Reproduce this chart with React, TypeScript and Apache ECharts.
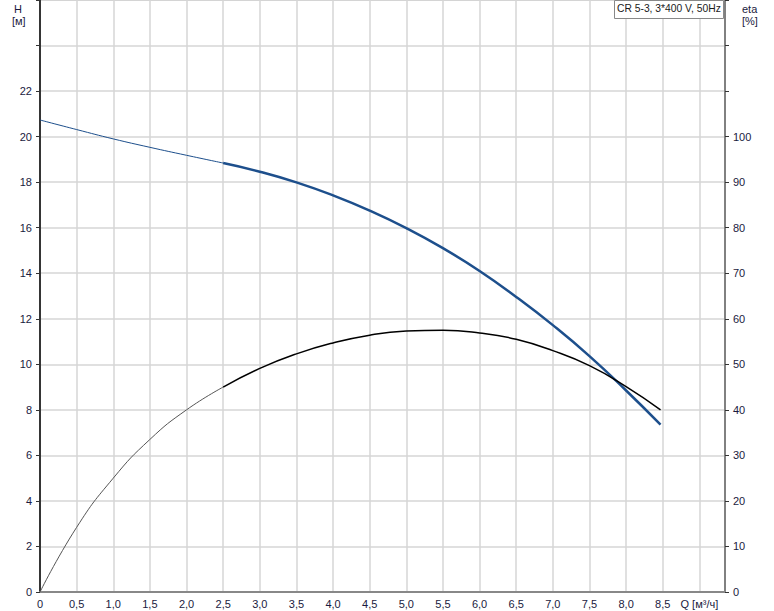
import React, { useEffect, useRef } from "react";
import * as echarts from "echarts";

// Flow Q [m³/h]
const flowQ = [0, 0.5, 1.0, 1.5, 2.0, 2.5, 3.0, 3.5, 4.0, 4.5, 5.0, 5.5, 6.0, 6.5, 7.0, 7.5, 8.0, 8.47];
// Head H [m]
const headH = [20.73, 20.31, 19.9, 19.53, 19.18, 18.84, 18.46, 17.99, 17.42, 16.75, 15.98, 15.1, 14.1, 12.96, 11.72, 10.36, 8.85, 7.35];
// Efficiency eta [%]
const etaV = [0, 14.2, 25.0, 33.5, 40.0, 45.0, 49.1, 52.3, 54.7, 56.4, 57.3, 57.5, 56.9, 55.5, 53.0, 49.7, 45.1, 40.0];

const splitQ = 2.5;
const titleText = "CR 5-3, 3*400 V, 50Hz";
const hLabel = ["H", "[м]"];
const etaLabel = ["eta", "[%]"];
const qLabel = "Q [м³/ч]";

function pairs(xs: number[], ys: number[], from: number, to: number) {
  const out: number[][] = [];
  xs.forEach((x, i) => {
    if (x >= from && x <= to) out.push([x, ys[i]]);
  });
  return out;
}

export default function App() {
  const ref = useRef<HTMLDivElement>(null);
  useEffect(() => {
    if (!ref.current) return;
    const chart = echarts.init(ref.current, undefined, { renderer: "svg" });
    const font = "Arial, 'Liberation Sans', sans-serif";
    const fmtQ = (v: number) => {
      if (Math.abs(v - 9) < 1e-6) return qLabel;
      if (v > 9) return "";
      if (v === 0) return "0";
      return v.toFixed(1).replace(".", ",");
    };
    const lineBase = { type: "line", showSymbol: false, smooth: true };
    chart.setOption({
      animation: false,
      grid: {
        left: 40,
        top: 0,
        width: 685,
        height: 592,
        show: true,
        borderColor: "#a0a0a0",
        borderWidth: 1,
        backgroundColor: "transparent",
      },
      xAxis: {
        type: "value",
        min: 0,
        max: 9.35,
        interval: 0.5,
        axisLine: { show: true, lineStyle: { color: "#888", width: 2 } },
        axisTick: { show: false },
        axisLabel: {
          margin: 6,
          fontSize: 11,
          color: "#1a1a40",
          fontFamily: font,
          formatter: fmtQ,
          showMaxLabel: false,
        },
        splitLine: { show: true, lineStyle: { color: "#d6d6d6", width: 1.5 } },
      },
      yAxis: [
        {
          type: "value",
          min: 0,
          max: 26,
          interval: 2,
          position: "left",
          axisLine: { show: true, lineStyle: { color: "#000", width: 1.5 } },
          axisTick: { show: true, length: 4, lineStyle: { color: "#333" } },
          axisLabel: {
            margin: 8,
            fontSize: 11,
            color: "#1a1a40",
            fontFamily: font,
            formatter: (v: number) => (v > 22 ? "" : String(v)),
          },
          splitLine: { show: true, lineStyle: { color: "#d6d6d6", width: 1.5 } },
        },
        {
          type: "value",
          min: 0,
          max: 130,
          interval: 10,
          position: "right",
          axisLine: { show: true, lineStyle: { color: "#666", width: 1.5 } },
          axisTick: { show: true, length: 4, lineStyle: { color: "#333" } },
          axisLabel: {
            margin: 8,
            fontSize: 11,
            color: "#1a1a40",
            fontFamily: font,
            formatter: (v: number) => (v > 100 ? "" : String(v)),
          },
          splitLine: { show: false },
        },
      ],
      series: [
        {
          ...lineBase,
          data: pairs(flowQ, headH, 0, splitQ),
          lineStyle: { color: "#1d4f8c", width: 1 },
        },
        {
          ...lineBase,
          data: pairs(flowQ, headH, splitQ, 99),
          lineStyle: { color: "#1d4f8c", width: 2.5 },
        },
        {
          ...lineBase,
          yAxisIndex: 1,
          data: pairs(flowQ, etaV, 0, splitQ),
          lineStyle: { color: "#555", width: 1 },
        },
        {
          ...lineBase,
          yAxisIndex: 1,
          data: pairs(flowQ, etaV, splitQ, 99),
          lineStyle: { color: "#000", width: 1.5 },
        },
      ],
      graphic: [
        {
          type: "text",
          left: 14,
          top: 3,
          style: { text: hLabel[0], fontSize: 11, fill: "#1a1a40", fontFamily: font },
        },
        {
          type: "text",
          left: 12,
          top: 15,
          style: { text: hLabel[1], fontSize: 11, fill: "#1a1a40", fontFamily: font },
        },
        {
          type: "text",
          left: 742,
          top: 3,
          style: { text: etaLabel[0], fontSize: 11, fill: "#1a1a40", fontFamily: font },
        },
        {
          type: "text",
          left: 742,
          top: 15,
          style: { text: etaLabel[1], fontSize: 11, fill: "#1a1a40", fontFamily: font },
        },
        {
          type: "rect",
          shape: { x: 614.5, y: 0.5, width: 109, height: 18 },
          style: { fill: "#fff", stroke: "#888", lineWidth: 1 },
          z: 100,
        },
        {
          type: "text",
          left: 617,
          top: 3,
          z: 101,
          style: { text: titleText, fontSize: 10.3, fill: "#1a1a1a", fontFamily: font },
        },
      ],
    });
    return () => chart.dispose();
  }, []);
  return (
    <div
      ref={ref}
      style={{ position: "absolute", left: 0, top: 0, width: 774, height: 611 }}
    />
  );
}
